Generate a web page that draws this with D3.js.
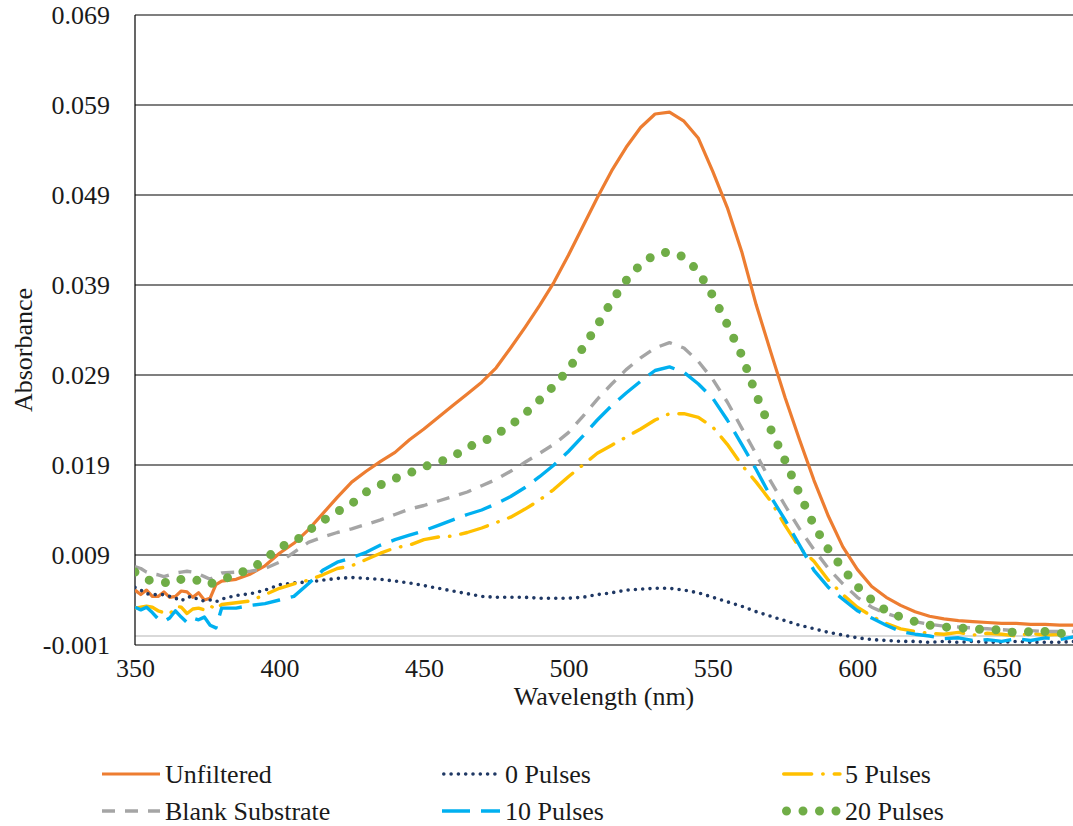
<!DOCTYPE html>
<html>
<head>
<meta charset="utf-8">
<script src="https://cdn.jsdelivr.net/npm/d3@7/dist/d3.min.js"></script>
<style>
    body { margin: 0; background: #fff; }
    svg text { font-family: "Liberation Serif", Tinos, "Times New Roman", "DejaVu Serif", "Noto Serif", serif; fill: #1a1a1a; }
</style>
</head>
<body>
<div id="chart"></div>
<script>
// wavelengths (nm) shared by every series
const wavelengths = [350, 352, 354, 356, 358, 360, 362, 364, 366, 368, 370, 372, 374, 376, 378, 380,
    385, 390, 395, 400, 405, 410, 415, 420, 425, 430,
    435, 440, 445, 450, 455, 460, 465, 470, 475, 480,
    485, 490, 495, 500, 505, 510, 515, 520, 525, 530,
    535, 540, 545, 550, 555, 560, 565, 570, 575, 580,
    585, 590, 595, 600, 605, 610, 615, 620, 625, 630,
    635, 640, 645, 650, 655, 660, 665, 670, 675];

const unfiltered = [0.0051, 0.0046, 0.0051, 0.0044, 0.0044, 0.0049, 0.0043, 0.0044, 0.0050, 0.0049, 0.0043, 0.0048, 0.0040, 0.0042, 0.0057, 0.0061,
    0.0063, 0.0069, 0.0078, 0.0092, 0.0103, 0.0118, 0.0136, 0.0154, 0.0171, 0.0183,
    0.0194, 0.0204, 0.0218, 0.0230, 0.0243, 0.0256, 0.0269, 0.0282, 0.0298, 0.0320,
    0.0343, 0.0367, 0.0393, 0.0423, 0.0455, 0.0487, 0.0517, 0.0543, 0.0565, 0.0580,
    0.0582, 0.0572, 0.0553, 0.0516, 0.0476, 0.0427, 0.0368, 0.0316, 0.0265, 0.0218,
    0.0173, 0.0133, 0.0099, 0.0074, 0.0055, 0.0043, 0.0034, 0.0027, 0.0022, 0.0019,
    0.0017, 0.0016, 0.0015, 0.0014, 0.0014, 0.0013, 0.0013, 0.0012, 0.0012];

const pulses0 = [0.0054, 0.0051, 0.0047, 0.0046, 0.0046, 0.0046, 0.0044, 0.0042, 0.0039, 0.0043, 0.0044, 0.0040, 0.0039, 0.0040, 0.0038, 0.0041,
    0.0045, 0.0047, 0.0051, 0.0057, 0.0059, 0.0060, 0.0062, 0.0064, 0.0065, 0.0064,
    0.0063, 0.0061, 0.0059, 0.0056, 0.0053, 0.0050, 0.0047, 0.0044, 0.0043, 0.0043,
    0.0043, 0.0042, 0.0042, 0.0042, 0.0043, 0.0046, 0.0048, 0.0051, 0.0052, 0.0053,
    0.0053, 0.0051, 0.0048, 0.0043, 0.0038, 0.0033, 0.0027, 0.0022, 0.0017, 0.0012,
    0.0008, 0.0004, 0.0001, -0.0002, -0.0004, -0.0005, -0.0006, -0.0006, -0.0007, -0.0006,
    -0.0007, -0.0006, -0.0007, -0.0007, -0.0006, -0.0007, -0.0007, -0.0007, -0.0006];

const pulses5 = [0.0031, 0.0032, 0.0033, 0.0032, 0.0028, 0.0026, 0.0024, 0.0033, 0.0032, 0.0025, 0.0030, 0.0031, 0.0029, 0.0034, 0.0029, 0.0035,
    0.0037, 0.0039, 0.0046, 0.0053, 0.0058, 0.0062, 0.0068, 0.0075, 0.0078, 0.0085,
    0.0092, 0.0098, 0.0101, 0.0107, 0.0110, 0.0111, 0.0115, 0.0120, 0.0126, 0.0132,
    0.0141, 0.0151, 0.0163, 0.0177, 0.0190, 0.0203, 0.0212, 0.0221, 0.0230, 0.0240,
    0.0247, 0.0247, 0.0243, 0.0232, 0.0213, 0.0190, 0.0171, 0.0150, 0.0123, 0.0098,
    0.0083, 0.0062, 0.0046, 0.0032, 0.0022, 0.0014, 0.0008, 0.0005, 0.0003, 0.0002,
    0.0004, 0.0001, 0.0003, 0.0002, 0.0000, 0.0003, 0.0001, 0.0002, 0.0001];

const blankSubstrate = [0.0077, 0.0075, 0.0071, 0.0069, 0.0068, 0.0066, 0.0068, 0.0070, 0.0071, 0.0072, 0.0071, 0.0069, 0.0066, 0.0063, 0.0067, 0.0070,
    0.0071, 0.0072, 0.0075, 0.0082, 0.0093, 0.0104, 0.0110, 0.0115, 0.0119, 0.0124,
    0.0129, 0.0135, 0.0141, 0.0145, 0.0150, 0.0155, 0.0160, 0.0167, 0.0174, 0.0183,
    0.0193, 0.0203, 0.0213, 0.0226, 0.0244, 0.0263, 0.0280, 0.0296, 0.0309, 0.0320,
    0.0326, 0.0320, 0.0305, 0.0285, 0.0260, 0.0231, 0.0202, 0.0172, 0.0145, 0.0119,
    0.0096, 0.0075, 0.0058, 0.0043, 0.0032, 0.0025, 0.0020, 0.0016, 0.0013, 0.0011,
    0.0010, 0.0009, 0.0008, 0.0007, 0.0006, 0.0006, 0.0005, 0.0005, 0.0005];

const pulses10 = [0.0032, 0.0029, 0.0032, 0.0026, 0.0019, 0.0016, 0.0020, 0.0028, 0.0021, 0.0015, 0.0020, 0.0018, 0.0021, 0.0012, 0.0009, 0.0031,
    0.0031, 0.0034, 0.0036, 0.0040, 0.0044, 0.0058, 0.0073, 0.0082, 0.0087, 0.0093,
    0.0101, 0.0107, 0.0112, 0.0117, 0.0123, 0.0129, 0.0135, 0.0140, 0.0147, 0.0155,
    0.0165, 0.0177, 0.0190, 0.0205, 0.0222, 0.0240, 0.0256, 0.0270, 0.0283, 0.0295,
    0.0299, 0.0293, 0.0280, 0.0264, 0.0240, 0.0213, 0.0185, 0.0155, 0.0129, 0.0101,
    0.0073, 0.0054, 0.0041, 0.0028, 0.0020, 0.0012, 0.0005, 0.0002, 0.0000, -0.0003,
    -0.0002, -0.0005, -0.0004, -0.0006, -0.0003, -0.0005, -0.0002, -0.0004, -0.0001];

const pulses20 = [0.0071, 0.0068, 0.0063, 0.0061, 0.0060, 0.0060, 0.0058, 0.0061, 0.0063, 0.0064, 0.0064, 0.0061, 0.0057, 0.0058, 0.0060, 0.0062,
    0.0069, 0.0074, 0.0085, 0.0099, 0.0104, 0.0117, 0.0128, 0.0138, 0.0147, 0.0160,
    0.0168, 0.0175, 0.0181, 0.0188, 0.0193, 0.0199, 0.0210, 0.0215, 0.0224, 0.0234,
    0.0247, 0.0262, 0.0278, 0.0296, 0.0320, 0.0345, 0.0372, 0.0395, 0.0413, 0.0424,
    0.0427, 0.0421, 0.0405, 0.0378, 0.0346, 0.0312, 0.0268, 0.0230, 0.0195, 0.0158,
    0.0123, 0.0096, 0.0075, 0.0055, 0.0040, 0.0028, 0.0021, 0.0016, 0.0012, 0.0010,
    0.0009, 0.0008, 0.0007, 0.0007, 0.0003, 0.0005, 0.0005, 0.0003, 0.0002];

const xTicks = [350, 400, 450, 500, 550, 600, 650];
const yTicks = [-0.001, 0.009, 0.019, 0.029, 0.039, 0.049, 0.059, 0.069];

// series in legend order (row by row)
let series = [
    {name: "Unfiltered", values: unfiltered, colour: "#ED7D31", width: 3.2, dash: null, cap: "butt"},
    {name: "0 Pulses", values: pulses0, colour: "#1F3864", width: 3.6, dash: "0 7.3", cap: "round"},
    {name: "5 Pulses", values: pulses5, colour: "#FFC000", width: 3.4, dash: "28 11 0.5 11", cap: "round"},
    {name: "Blank Substrate", values: blankSubstrate, colour: "#A5A5A5", width: 3.4, dash: "13 10", cap: "butt"},
    {name: "10 Pulses", values: pulses10, colour: "#00B0F0", width: 3.4, dash: "28 11", cap: "butt"},
    {name: "20 Pulses", values: pulses20, colour: "#70AD47", width: 9, dash: "0 16.5", cap: "round"}
];

const fontStack = '"Liberation Serif", Tinos, "Times New Roman", "DejaVu Serif", "Noto Serif", serif';
const width = 1073, height = 826;
const plot = {left: 135, top: 15, right: 1074, bottom: 645};

let svg = d3.select("#chart").append("svg")
    .attr("width", width)
    .attr("height", height)
    .style("font-family", fontStack);

let x = d3.scaleLinear()
    .domain([350, 675])
    .range([plot.left, plot.right]);

let y = d3.scaleLinear()
    .domain([-0.001, 0.069])
    .range([plot.bottom, plot.top]);

// gridlines
svg.append("g")
    .attr("class", "grid")
    .selectAll("line")
    .data(yTicks)
    .enter()
    .append("line")
    .attr("x1", plot.left)
    .attr("x2", plot.right)
    .attr("y1", d => y(d))
    .attr("y2", d => y(d))
    .attr("stroke", "#000")
    .attr("stroke-width", 1.2);

// horizontal axis line at zero
svg.append("line")
    .attr("x1", plot.left)
    .attr("x2", plot.right)
    .attr("y1", y(0))
    .attr("y2", y(0))
    .attr("stroke", "#d9d9d9")
    .attr("stroke-width", 2);

// left border
svg.append("line")
    .attr("x1", plot.left)
    .attr("x2", plot.left)
    .attr("y1", plot.top)
    .attr("y2", plot.bottom)
    .attr("stroke", "#000")
    .attr("stroke-width", 1.2);

// axes (labels only)
let fmt = d3.format(".3f");
let yAxis = svg.append("g")
    .attr("transform", `translate(${plot.left}, 0)`)
    .call(d3.axisLeft(y).tickValues(yTicks).tickSize(0).tickPadding(25)
        .tickFormat(d => fmt(d).replace("\u2212", "-")));

let xAxis = svg.append("g")
    .attr("transform", `translate(0, ${plot.bottom})`)
    .call(d3.axisBottom(x).tickValues(xTicks).tickSize(0).tickPadding(13.5).tickFormat(d3.format("d")));

[yAxis, xAxis].forEach(a => {
    a.attr("font-family", null).attr("font-size", null);
    a.select(".domain").remove();
    a.selectAll("text")
        .style("font-family", fontStack)
        .style("font-size", "26px")
        .attr("fill", "#1a1a1a");
});

// axis titles
svg.append("text")
    .attr("x", 604)
    .attr("y", 705)
    .attr("text-anchor", "middle")
    .style("font-size", "26px")
    .text("Wavelength (nm)");

svg.append("text")
    .attr("transform", "translate(32, 350) rotate(-90)")
    .attr("text-anchor", "middle")
    .style("font-size", "26px")
    .text("Absorbance");

// clip to plot area
svg.append("clipPath")
    .attr("id", "plot-clip")
    .append("rect")
    .attr("x", plot.left)
    .attr("y", plot.top)
    .attr("width", plot.right - plot.left)
    .attr("height", plot.bottom - plot.top);

let line = d3.line()
    .x((d, i) => x(wavelengths[i]))
    .y(d => y(d));

svg.append("g")
    .attr("clip-path", "url(#plot-clip)")
    .selectAll("path")
    .data(series)
    .enter()
    .append("path")
    .attr("d", d => line(d.values))
    .attr("fill", "none")
    .attr("stroke", d => d.colour)
    .attr("stroke-width", d => d.width)
    .attr("stroke-dasharray", d => d.dash)
    .attr("stroke-linecap", d => d.cap)
    .attr("stroke-linejoin", "round");

// legend: 3 columns, 2 rows
let legendCols = [102, 442, 782];
let legendRows = [774, 811];

let legend = svg.append("g")
    .attr("class", "legend")
    .selectAll("g")
    .data(series)
    .enter()
    .append("g")
    .attr("transform", (d, i) => `translate(${legendCols[i % 3]}, ${legendRows[Math.floor(i / 3)]})`);

legend.append("line")
    .attr("x1", d => d.cap === "round" ? d.width / 2 : 0)
    .attr("x2", 58)
    .attr("y1", 0)
    .attr("y2", 0)
    .attr("stroke", d => d.colour)
    .attr("stroke-width", d => d.width)
    .attr("stroke-dasharray", d => d.dash)
    .attr("stroke-linecap", d => d.cap);

legend.append("text")
    .attr("x", 63)
    .attr("y", 9)
    .style("font-size", "26px")
    .text(d => d.name);
</script>
</body>
</html>
